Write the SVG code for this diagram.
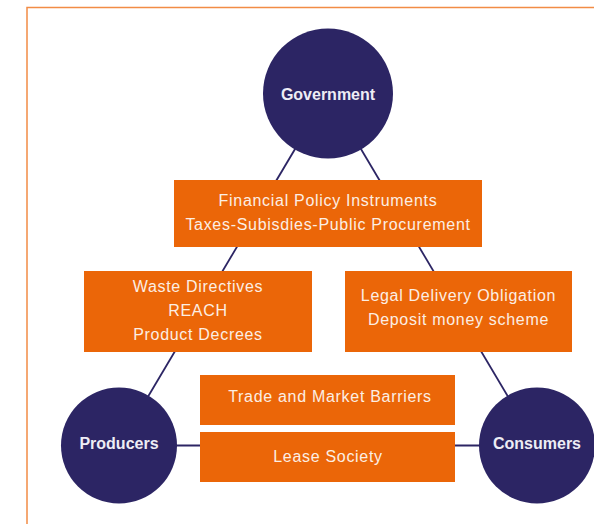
<svg xmlns="http://www.w3.org/2000/svg" width="594" height="524" viewBox="0 0 594 524">
  <style>
    .frame { fill: none; stroke: #F28C45; stroke-width: 1.5; }
    .conn { stroke: #2C2564; stroke-width: 1.8; fill: none; }
    .circle { fill: #2C2564; }
    .box { fill: #EB6608; }
    .ctext { font-family: "Liberation Sans", Arial, sans-serif; font-weight: bold; font-size: 16px; fill: #EEEDF5; text-anchor: middle; }
    .btext { font-family: "Liberation Sans", Arial, sans-serif; font-size: 16px; letter-spacing: 0.7px; fill: #FCEEE4; text-anchor: middle; }
  </style>
  <rect width="594" height="524" fill="#FFFFFF"/>
  <path class="frame" d="M27,524 V7.5 H594"/>

  <g id="connectors">
    <line class="conn" x1="328" y1="93.5" x2="119" y2="445.5"/>
    <line class="conn" x1="328" y1="93.5" x2="537" y2="445.5"/>
    <line class="conn" x1="119" y1="445.5" x2="537" y2="445.5"/>
  </g>

  <g id="government">
    <circle class="circle" cx="328" cy="93.5" r="65"/>
    <text class="ctext" x="328" y="99.5">Government</text>
  </g>
  <g id="producers">
    <circle class="circle" cx="119" cy="445.5" r="58"/>
    <text class="ctext" x="119" y="449">Producers</text>
  </g>
  <g id="consumers">
    <circle class="circle" cx="537" cy="445.5" r="58"/>
    <text class="ctext" x="537" y="449">Consumers</text>
  </g>

  <g id="financial">
    <rect class="box" x="174" y="180" width="308" height="67"/>
    <text class="btext" x="328" y="206">Financial Policy Instruments</text>
    <text class="btext" x="328" y="230">Taxes-Subisdies-Public Procurement</text>
  </g>
  <g id="waste">
    <rect class="box" x="84" y="271" width="228" height="81"/>
    <text class="btext" x="198" y="292">Waste Directives</text>
    <text class="btext" x="198" y="316">REACH</text>
    <text class="btext" x="198" y="340">Product Decrees</text>
  </g>
  <g id="legal">
    <rect class="box" x="345" y="271" width="227" height="81"/>
    <text class="btext" x="458.5" y="301">Legal Delivery Obligation</text>
    <text class="btext" x="458.5" y="325">Deposit money scheme</text>
  </g>
  <g id="trade">
    <rect class="box" x="200" y="375" width="255" height="50"/>
    <text class="btext" x="330" y="402">Trade and Market Barriers</text>
  </g>
  <g id="lease">
    <rect class="box" x="200" y="432" width="255" height="50"/>
    <text class="btext" x="328" y="462">Lease Society</text>
  </g>
</svg>
